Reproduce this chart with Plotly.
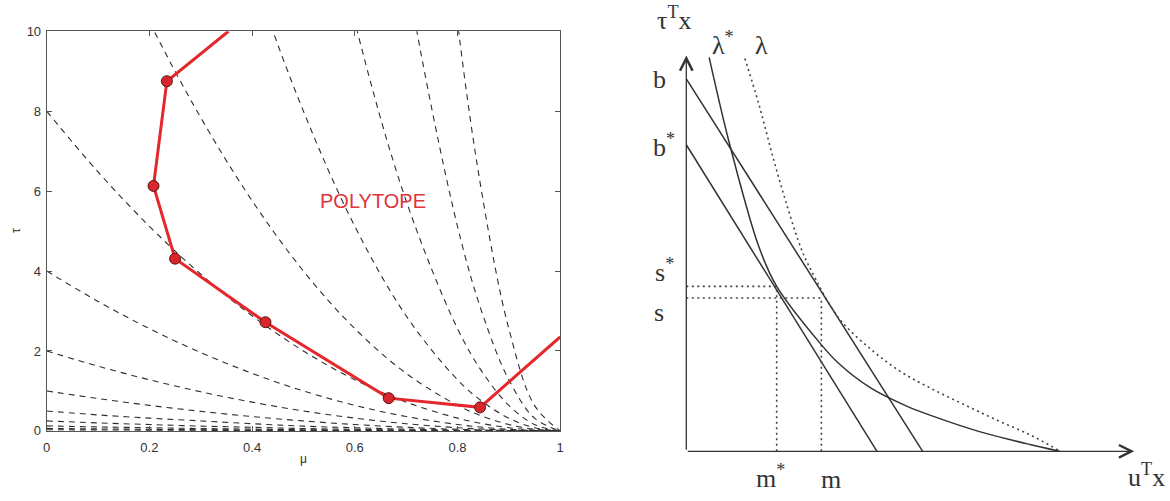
import plotly.graph_objects as go

# ---------------- Left panel data ----------------
mu_grid = [0, 0.1, 0.2, 0.3, 0.4, 0.5, 0.6, 0.7, 0.8, 0.85, 0.9, 0.95, 1.0]
dashed_k = [256, 128, 64, 32, 16, 8, 4, 2, 1, 0.5, 0.25, 0.125, 0.0625, 0.03]
dashed_tau = [
    [256, 207.4, 163.8, 125.4, 92.2, 64, 41, 23, 10.24, 5.76, 2.56, 0.64, 0],
    [128, 103.7, 81.9, 62.7, 46.1, 32, 20.5, 11.5, 5.12, 2.88, 1.28, 0.32, 0],
    [64, 51.8, 41, 31.4, 23, 16, 10.24, 5.76, 2.56, 1.44, 0.64, 0.16, 0],
    [32, 25.9, 20.5, 15.7, 11.5, 8, 5.12, 2.88, 1.28, 0.72, 0.32, 0.08, 0],
    [16, 13, 10.24, 7.84, 5.76, 4, 2.56, 1.44, 0.64, 0.36, 0.16, 0.04, 0],
    [8, 6.48, 5.12, 3.92, 2.88, 2, 1.28, 0.72, 0.32, 0.18, 0.08, 0.02, 0],
    [4, 3.24, 2.56, 1.96, 1.44, 1, 0.64, 0.36, 0.16, 0.09, 0.04, 0.01, 0],
    [2, 1.62, 1.28, 0.98, 0.72, 0.5, 0.32, 0.18, 0.08, 0.045, 0.02, 0.005, 0],
    [1, 0.81, 0.64, 0.49, 0.36, 0.25, 0.16, 0.09, 0.04, 0.022, 0.01, 0.003, 0],
    [0.5, 0.4, 0.32, 0.25, 0.18, 0.12, 0.08, 0.045, 0.02, 0.011, 0.005, 0.001, 0],
    [0.25, 0.2, 0.16, 0.12, 0.09, 0.06, 0.04, 0.022, 0.01, 0.005, 0.002, 0.0, 0],
    [0.125, 0.1, 0.08, 0.06, 0.045, 0.03, 0.02, 0.011, 0.005, 0.003, 0.001, 0.0, 0],
    [0.0625, 0.05, 0.04, 0.03, 0.022, 0.015, 0.01, 0.005, 0.002, 0.001, 0.0, 0.0, 0],
    [0.03, 0.025, 0.02, 0.015, 0.011, 0.008, 0.005, 0.003, 0.001, 0.0, 0.0, 0.0, 0],
]
polytope_mu = [0.354, 0.234, 0.208, 0.250, 0.426, 0.666, 0.844, 1.0]
polytope_tau = [10.0, 8.75, 6.13, 4.31, 2.72, 0.82, 0.59, 2.35]
vertex_mu = polytope_mu[1:7]
vertex_tau = polytope_tau[1:7]
x_ticks = [0, 0.2, 0.4, 0.6, 0.8, 1.0]
x_ticktext = ["0", "0.2", "0.4", "0.6", "0.8", "1"]
y_ticks = [0, 2, 4, 6, 8, 10]
y_ticktext = ["0", "2", "4", "6", "8", "10"]

# ---------------- Right panel data (schematic) ----------------
b_val, b_root = 38.4, 23.8
bstar_val, bstar_root = 31.6, 19.2
s_star, m_star = 17.0, 9.1
s_val, m_val = 15.8, 13.6
lam_star_x = [2.3, 4.2, 7.3, 9.1, 13.5, 15.3, 18.6, 22.3, 24.6, 29.6, 34.6, 37.6]
lam_star_y = [40.6, 32.3, 21.1, 17.0, 11.1, 9.1, 6.5, 4.6, 3.7, 2.0, 0.7, 0.0]
lam_x = [5.9, 7.3, 8.6, 10.0, 11.6, 12.5, 15.3, 18.6, 21.6, 24.6, 28.0, 31.3, 34.6, 37.5]
lam_y = [40.5, 35.8, 30.8, 25.8, 20.8, 18.8, 13.8, 10.5, 8.2, 6.5, 4.8, 3.2, 1.7, 0.1]
axis_top, axis_right = 40.8, 45.1

fig = go.Figure()

dash_style = "6px,5px"
for k, taus in zip(dashed_k, dashed_tau):
    fig.add_trace(go.Scatter(x=mu_grid, y=taus, mode="lines",
                             line=dict(color="#2e2e2e", width=1.1, dash=dash_style, shape="spline"),
                             hoverinfo="skip", xaxis="x", yaxis="y"))

fig.add_trace(go.Scatter(x=polytope_mu, y=polytope_tau, mode="lines",
                         line=dict(color="#e5262b", width=3), xaxis="x", yaxis="y"))
fig.add_trace(go.Scatter(x=vertex_mu, y=vertex_tau, mode="markers",
                         marker=dict(color="#d8262c", size=11,
                                     line=dict(color="#5a1515", width=1)),
                         xaxis="x", yaxis="y"))

# Right panel
line_col = "#333333"
fig.add_trace(go.Scatter(x=[0, b_root], y=[b_val, 0], mode="lines",
                         line=dict(color=line_col, width=1.5), xaxis="x2", yaxis="y2"))
fig.add_trace(go.Scatter(x=[0, bstar_root], y=[bstar_val, 0], mode="lines",
                         line=dict(color=line_col, width=1.5), xaxis="x2", yaxis="y2"))
fig.add_trace(go.Scatter(x=lam_star_x, y=lam_star_y, mode="lines",
                         line=dict(color=line_col, width=1.5, shape="spline", smoothing=0.8),
                         xaxis="x2", yaxis="y2"))
fig.add_trace(go.Scatter(x=lam_x, y=lam_y, mode="lines",
                         line=dict(color="#444444", width=1.6, dash="2px,3.5px", shape="spline"),
                         xaxis="x2", yaxis="y2"))
dot_guides = [
    ([0, m_star], [s_star, s_star]),
    ([0, m_val], [s_val, s_val]),
    ([m_star, m_star], [0, s_star]),
    ([m_val, m_val], [0, s_val]),
]
for gx, gy in dot_guides:
    fig.add_trace(go.Scatter(x=gx, y=gy, mode="lines",
                             line=dict(color="#444444", width=1.6, dash="2px,3.5px"),
                             xaxis="x2", yaxis="y2"))

annotations = []
# Axis arrows (right panel)
for (tx, ty) in [(0, axis_top), (axis_right, 0)]:
    annotations.append(dict(x=tx, y=ty, ax=0, ay=0, xref="x2", yref="y2",
                            axref="x2", ayref="y2", text="", showarrow=True,
                            arrowhead=5, arrowsize=1.9, arrowwidth=1.3,
                            arrowcolor="#333333"))

serif = dict(family="Liberation Serif, Times New Roman, serif", size=26, color="#333333")
labels = [
    ("τ<sup>T</sup>x", -1.2, 44.6),
    ("λ<sup>*</sup>", 3.7, 42.0),
    ("λ", 7.6, 41.8),
    ("b", -2.7, 38.3),
    ("b<sup>*</sup>", -2.2, 31.5),
    ("s<sup>*</sup>", -2.2, 18.6),
    ("s", -2.7, 14.3),
    ("m<sup>*</sup>", 8.5, -2.6),
    ("m", 14.6, -2.9),
    ("u<sup>T</sup>x", 46.3, -2.5),
]
for txt, lx, ly in labels:
    annotations.append(dict(x=lx, y=ly, xref="x2", yref="y2", text=txt,
                            xanchor="center", yanchor="middle",
                            showarrow=False, font=serif))

# Left panel texts
annotations.append(dict(x=0.636, y=5.75, xref="x", yref="y", text="POLYTOPE",
                        xanchor="center", yanchor="middle", showarrow=False,
                        font=dict(family="Liberation Sans, Arial, sans-serif", size=20,
                                  color="#e0343a")))
annotations.append(dict(x=302 / 1170, y=(501 - 466) / 501, xref="paper", yref="paper",
                        text="μ", showarrow=False, xanchor="center", yanchor="middle",
                        font=dict(family="Liberation Sans, Arial", size=12, color="#333")))
annotations.append(dict(x=12 / 1170, y=(501 - 230) / 501, xref="paper", yref="paper",
                        text="τ", showarrow=False, textangle=-90,
                        xanchor="center", yanchor="middle",
                        font=dict(family="Liberation Sans, Arial", size=12, color="#333")))

axis_common = dict(showgrid=False, zeroline=False, showline=True, linecolor="#555555",
                   linewidth=1, ticks="inside", ticklen=5, tickcolor="#555555",
                   mirror="ticks",
                   tickfont=dict(family="Liberation Sans, Arial", size=13, color="#333"))

fig.update_layout(
    width=1170, height=501, margin=dict(l=0, r=0, t=0, b=0),
    paper_bgcolor="white", plot_bgcolor="white", showlegend=False,
    xaxis=dict(domain=[43 / 1170, 560 / 1170], range=[0, 1], tickvals=x_ticks,
               ticktext=x_ticktext, anchor="y", ticklabelstandoff=4, **axis_common),
    yaxis=dict(domain=[(501 - 437) / 501, (501 - 25) / 501], range=[0, 10],
               tickvals=y_ticks, ticktext=y_ticktext, anchor="x", ticklabelstandoff=2,
               **axis_common),
    xaxis2=dict(domain=[640 / 1170, 1], range=[-4.7, 48.3], visible=False, anchor="y2"),
    yaxis2=dict(domain=[0, 1], range=[-4.3, 45.8], visible=False, anchor="x2"),
    annotations=annotations,
)

fig.write_html("out.html")
